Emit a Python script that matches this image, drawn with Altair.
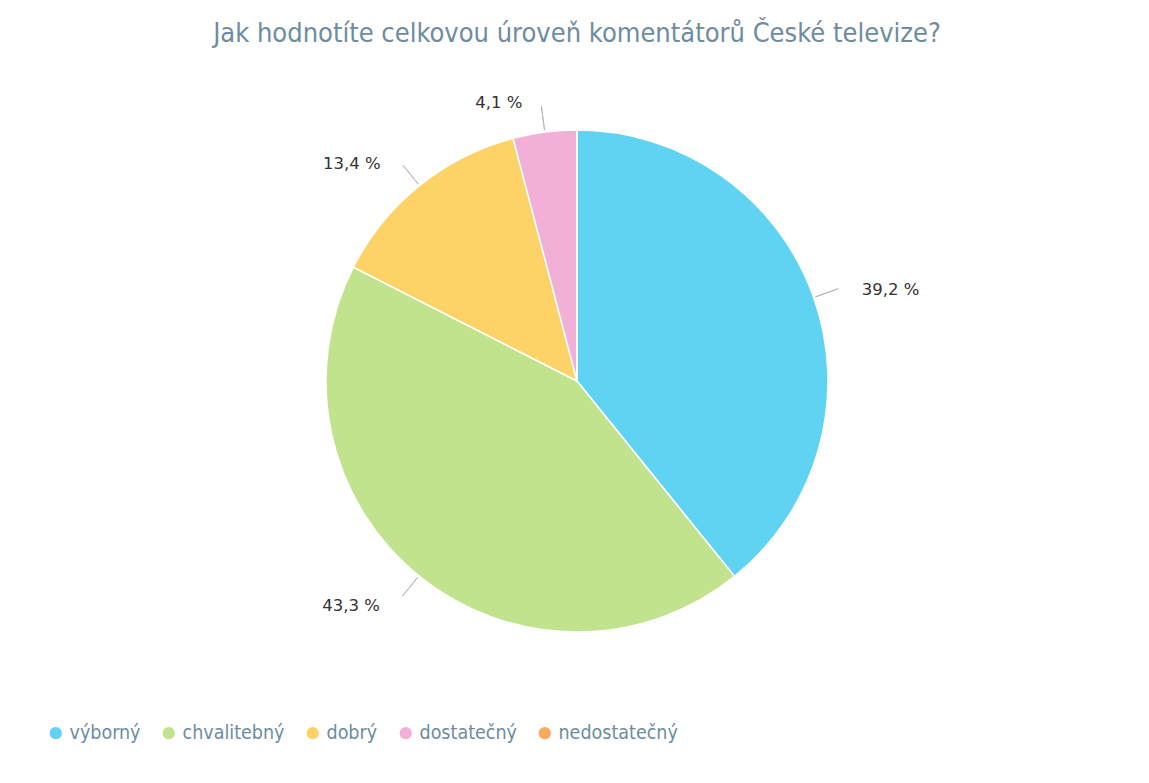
import altair as alt
import pandas as pd

categories = ["výborný", "chvalitebný", "dobrý", "dostatečný", "nedostatečný"]
values = [39.2, 43.3, 13.4, 4.1, 0.0]
colors = ["#5fd3f1", "#c2e38e", "#fdd266", "#f3b0d6", "#f9a862"]
title_text = "Jak hodnotíte celkovou úroveň komentátorů České televize?"

df = pd.DataFrame({"category": categories, "value": values, "idx": list(range(len(categories)))})

TEXT_COLOR = "#6e8ca0"
FONT = "DejaVu Sans"
FONT_C = "DejaVu Sans Condensed"
R = 251

base = alt.Chart(df).transform_joinaggregate(
    total="sum(value)"
).transform_window(
    cum="sum(value)", sort=[alt.SortField("idx")], frame=[None, 0]
).transform_calculate(
    start="(datum.cum - datum.value) / datum.total * 2 * PI",
    end="datum.cum / datum.total * 2 * PI",
    mid="(datum.cum - datum.value / 2) / datum.total * 2 * PI",
    label="replace(format(datum.value, '.1f'), '.', ',') + ' %'",
)

color_scale = alt.Scale(domain=categories, range=colors)

pie = base.mark_arc(outerRadius=R, stroke="white", strokeWidth=1.5).encode(
    theta=alt.Theta("start:Q", scale=None),
    theta2="end:Q",
    color=alt.Color(
        "category:N",
        scale=color_scale,
        sort=categories,
        legend=alt.Legend(
            title=None,
            orient="none",
            direction="horizontal",
            columns=5,
            legendX=33,
            legendY=666,
            symbolType="circle",
            symbolSize=150,
            symbolStrokeWidth=0,
            labelFont=FONT_C,
            labelFontSize=19.5,
            labelColor=TEXT_COLOR,
            labelOffset=4,
            columnPadding=18,
        ),
    ),
)

connectors = base.transform_filter("datum.value > 0").mark_arc(
    innerRadius=R + 2, outerRadius=R + 26, stroke="#b8b8b8", strokeWidth=1, fill=None
).encode(
    theta=alt.Theta("mid:Q", scale=None),
    theta2="mid:Q",
)

labels_right = base.transform_filter("datum.value > 0 && datum.mid < PI").mark_text(
    radius=R + 33, align="left", baseline="middle", font=FONT, fontSize=16.5, color="#333333", dx=17, dy=4
).encode(
    theta=alt.Theta("mid:Q", scale=None),
    text="label:N",
)

labels_left = base.transform_filter("datum.value > 0 && datum.mid >= PI").mark_text(
    radius=R + 33, align="right", baseline="middle", font=FONT, fontSize=16.5, color="#333333", dx=-18, dy=4
).encode(
    theta=alt.Theta("mid:Q", scale=None),
    text="label:N",
)

chart = alt.layer(pie, connectors, labels_right, labels_left).properties(
    width=1128,
    height=648,
    title=alt.TitleParams(
        text=title_text,
        font=FONT_C,
        fontSize=27,
        fontWeight="normal",
        color=TEXT_COLOR,
        anchor="middle",
        offset=9,
    ),
    padding={"top": 12, "left": 5, "right": 0, "bottom": 0},
).configure_view(stroke=None).configure(background="white")

chart.save("out.html", embed_options={"renderer": "svg", "actions": False})
